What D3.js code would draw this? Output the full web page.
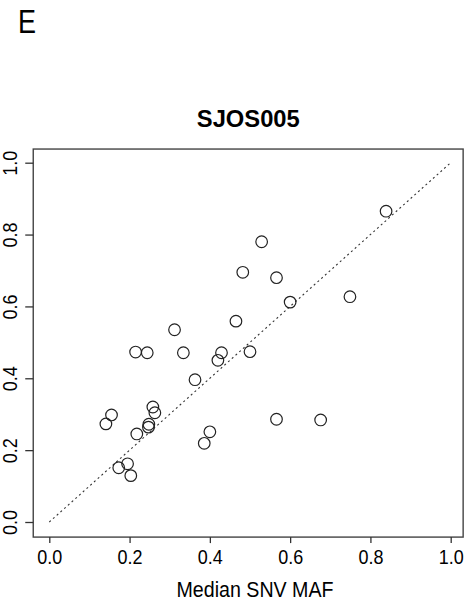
<!DOCTYPE html>
<html>
<head>
<meta charset="utf-8">
<script src="https://cdn.jsdelivr.net/npm/d3@7"></script>
<style>
  html, body { margin: 0; padding: 0; background: #fff; }
  svg { display: block; }
  text { font-family: "Liberation Sans", Arial, sans-serif; fill: #000; }
</style>
</head>
<body>
<div id="chart"></div>
<script>
// Median SNV MAF (x) vs. CNV-based estimate (y), sample SJOS005
const mafX = [0.839, 0.529, 0.482, 0.566, 0.600, 0.749, 0.312, 0.465, 0.215, 0.244,
              0.334, 0.429, 0.420, 0.500, 0.363, 0.155, 0.141, 0.258, 0.263, 0.248,
              0.247, 0.218, 0.195, 0.173, 0.203, 0.400, 0.386, 0.566, 0.676];
const estY = [0.865, 0.780, 0.695, 0.680, 0.612, 0.627, 0.535, 0.559, 0.473, 0.471,
              0.471, 0.471, 0.450, 0.474, 0.396, 0.298, 0.273, 0.320, 0.304, 0.272,
              0.264, 0.245, 0.162, 0.151, 0.129, 0.251, 0.219, 0.286, 0.284];
const tickVals = [0.0, 0.2, 0.4, 0.6, 0.8, 1.0];
const diagLine = [0, 1];

const W = 467, H = 602;
const svg = d3.select('#chart').append('svg').attr('width', W).attr('height', H);

const x = d3.scaleLinear().domain([0, 1]).range([49.3, 450.7]);
const y = d3.scaleLinear().domain([0, 1]).range([522, 162.7]);

const bx0 = x(-0.04), bx1 = x(1.031), by0 = y(-0.042), by1 = y(1.038);

// panel letter
svg.append('text').attr('x', 18).attr('y', 33.3)
  .attr('font-size', 34)
  .attr('textLength', 18).attr('lengthAdjust', 'spacingAndGlyphs')
  .text('E');

// title
svg.append('text').attr('x', 248.3).attr('y', 126.7)
  .attr('text-anchor', 'middle').attr('font-size', 23).attr('font-weight', 'bold')
  .attr('textLength', 103).attr('lengthAdjust', 'spacingAndGlyphs')
  .text('SJOS005');

// y = x reference
svg.append('line')
  .attr('x1', x(diagLine[0])).attr('y1', y(diagLine[0]))
  .attr('x2', x(diagLine[1])).attr('y2', y(diagLine[1]))
  .attr('stroke', '#333').attr('stroke-width', 1.1)
  .attr('stroke-dasharray', '2,3');

// points
svg.append('g').selectAll('circle').data(mafX).join('circle')
  .attr('cx', d => x(d)).attr('cy', (d, i) => y(estY[i]))
  .attr('r', 5.8).attr('fill', 'none')
  .attr('stroke', '#222').attr('stroke-width', 1.2);

// box
svg.append('rect').attr('x', bx0).attr('y', by1)
  .attr('width', bx1 - bx0).attr('height', by0 - by1)
  .attr('fill', 'none').attr('stroke', '#444').attr('stroke-width', 1.4);

// axes
const xa = svg.append('g').attr('transform', `translate(0,${by0})`)
  .call(d3.axisBottom(x).tickValues(tickVals).tickSize(6).tickPadding(7)
    .tickFormat(d3.format('.1f')));
xa.select('.domain').remove();
xa.selectAll('line').attr('stroke', '#333').attr('stroke-width', 1.3);
xa.selectAll('text').attr('font-size', 20).attr('fill', '#000')
  .attr('font-family', '"Liberation Sans", Arial, sans-serif')
  .attr('textLength', 25).attr('lengthAdjust', 'spacingAndGlyphs');

const ya = svg.append('g').attr('transform', `translate(${bx0},0)`)
  .call(d3.axisLeft(y).tickValues(tickVals).tickSize(8)
    .tickFormat(d3.format('.1f')));
ya.select('.domain').remove();
ya.selectAll('line').attr('stroke', '#333').attr('stroke-width', 1.3);
ya.selectAll('text')
  .attr('x', null).attr('dy', null).attr('y', 0)
  .attr('text-anchor', 'middle')
  .attr('transform', 'translate(-16.6,0) rotate(-90)')
  .attr('font-size', 20).attr('fill', '#000')
  .attr('font-family', '"Liberation Sans", Arial, sans-serif')
  .attr('textLength', 25).attr('lengthAdjust', 'spacingAndGlyphs');

// x label
svg.append('text').attr('x', 255).attr('y', 596.7)
  .attr('text-anchor', 'middle').attr('font-size', 22)
  .attr('textLength', 157).attr('lengthAdjust', 'spacingAndGlyphs')
  .text('Median SNV MAF');
</script>
</body>
</html>
